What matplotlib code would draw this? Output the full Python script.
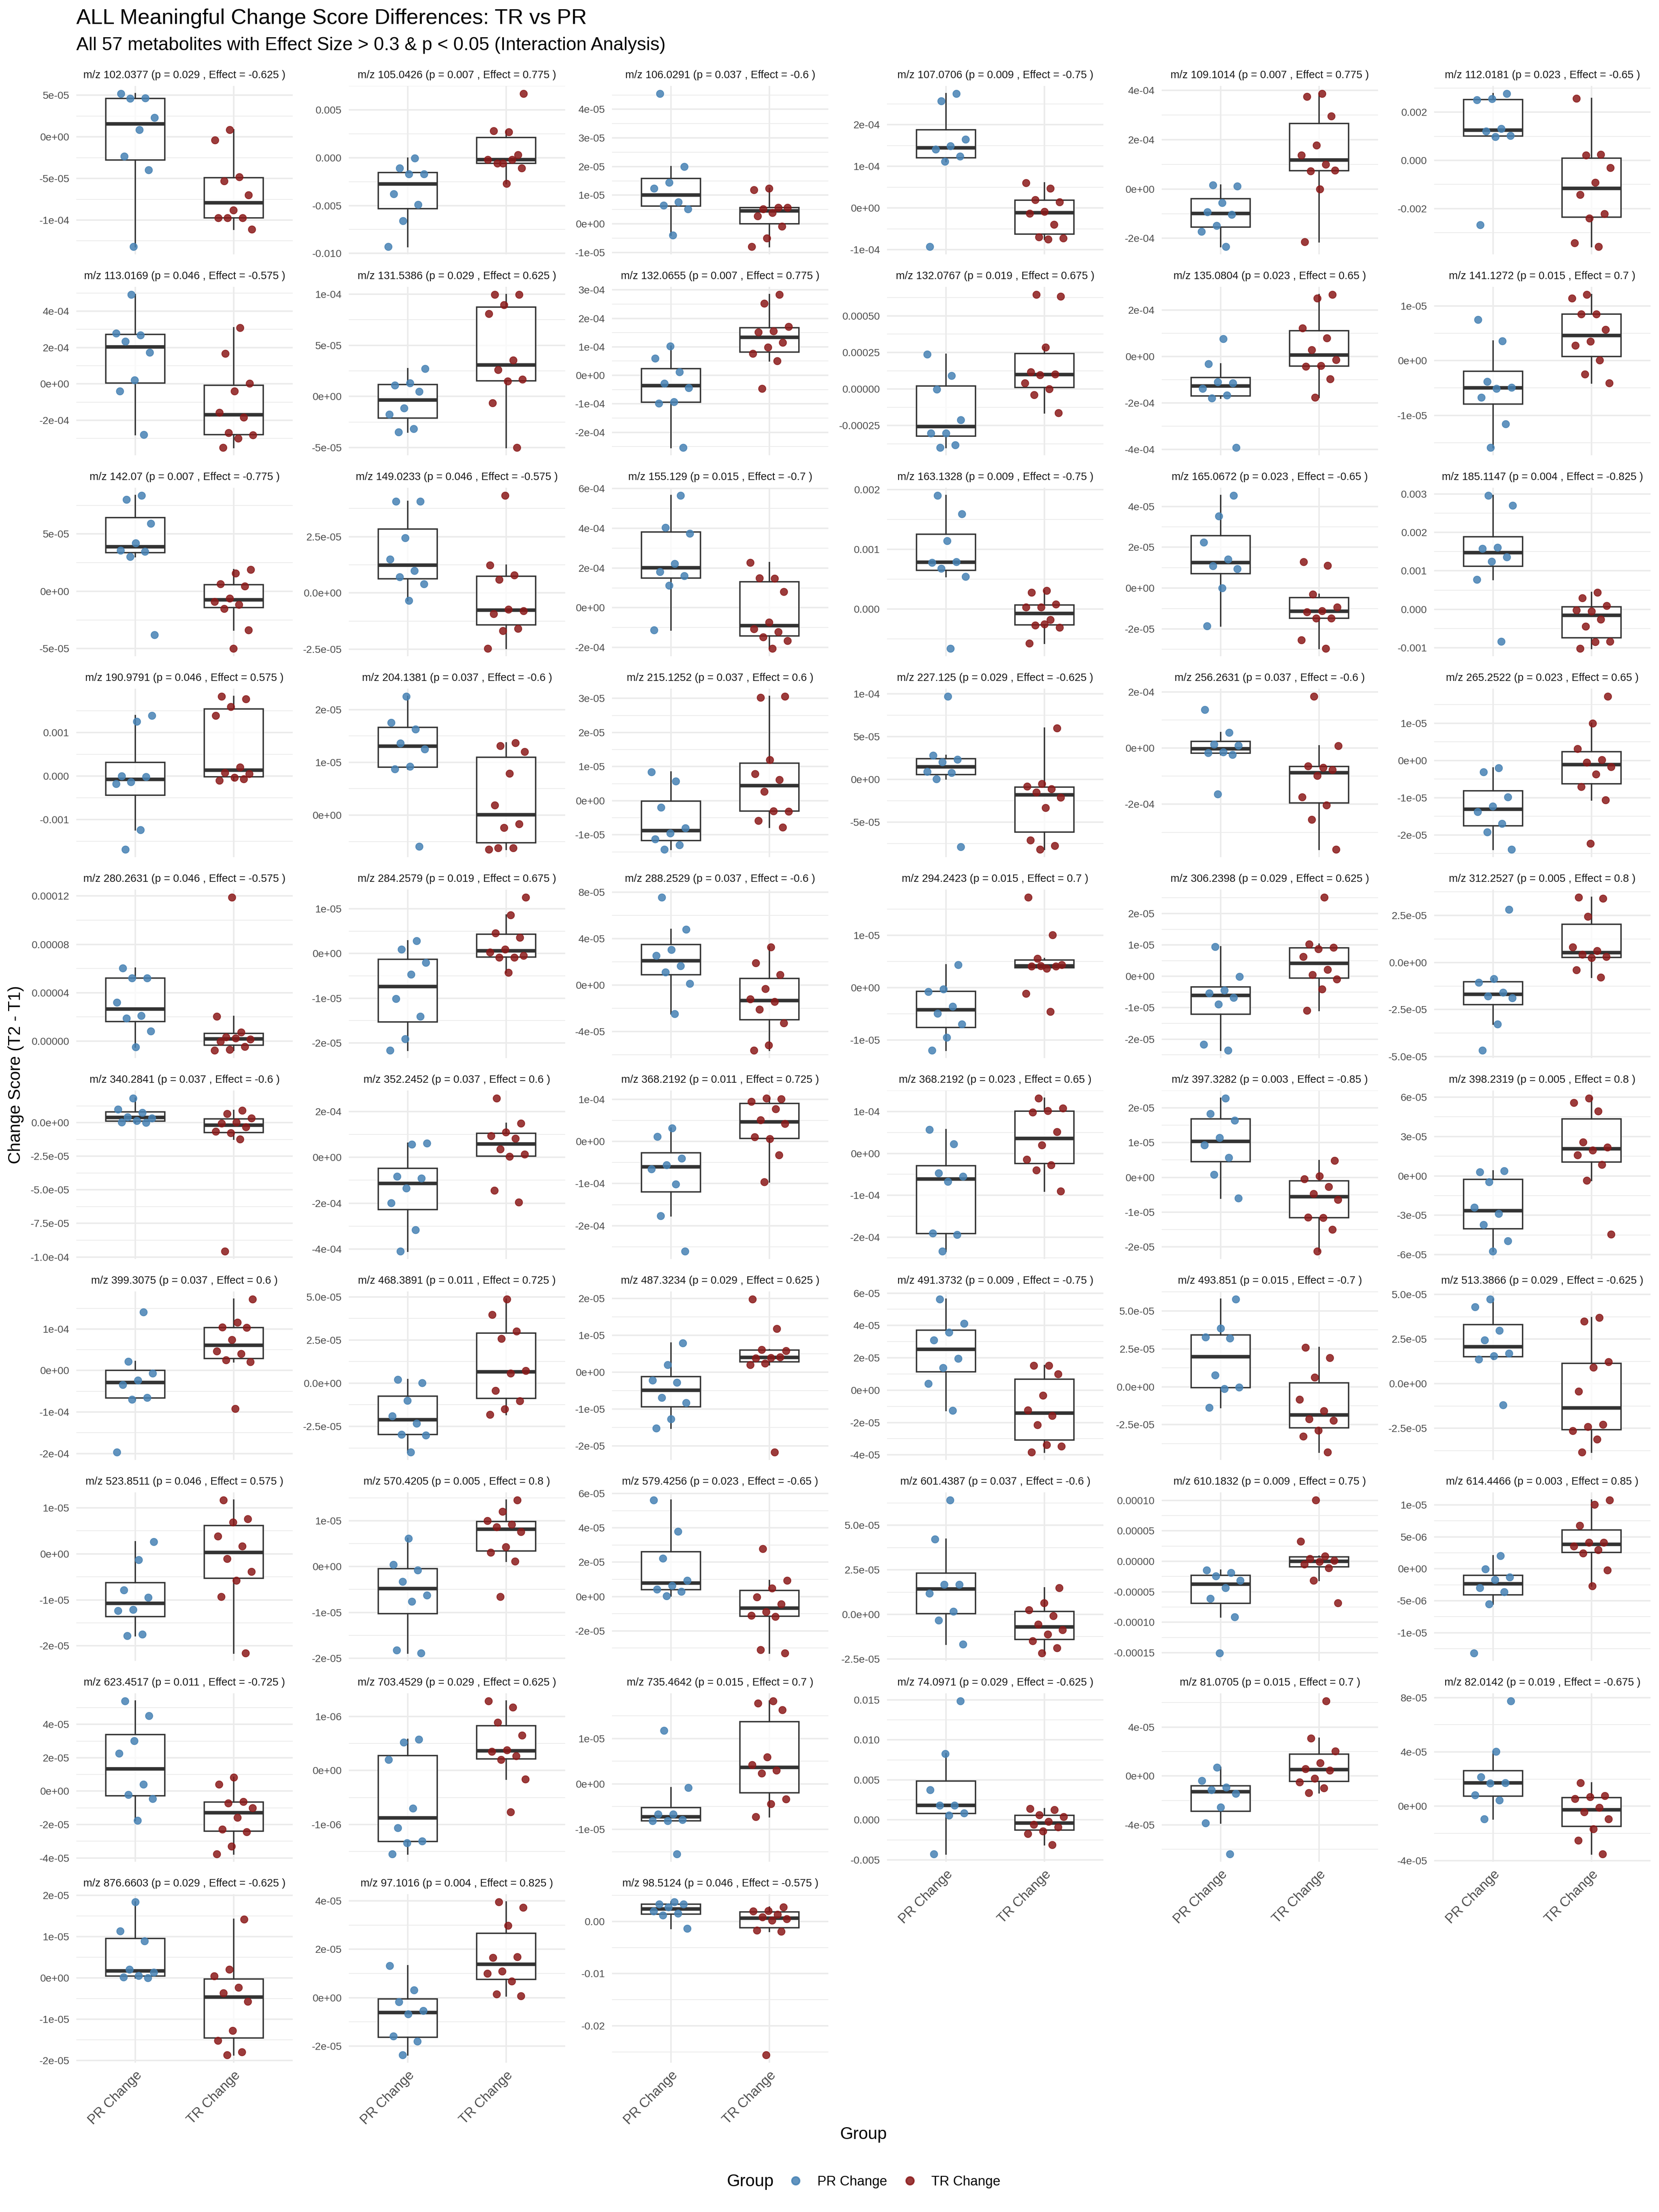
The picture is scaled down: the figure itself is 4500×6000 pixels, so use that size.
import numpy as np
import matplotlib
matplotlib.use("Agg")
import matplotlib.pyplot as plt
from matplotlib.lines import Line2D

plt.rcParams['font.family'] = ['Liberation Sans', 'DejaVu Sans']

# ---------------- data ----------------
GROUPS = ["PR Change", "TR Change"]

MZ = ["102.0377", "105.0426", "106.0291", "107.0706", "109.1014", "112.0181",
      "113.0169", "131.5386", "132.0655", "132.0767", "135.0804", "141.1272",
      "142.07", "149.0233", "155.129", "163.1328", "165.0672", "185.1147",
      "190.9791", "204.1381", "215.1252", "227.125", "256.2631", "265.2522",
      "280.2631", "284.2579", "288.2529", "294.2423", "306.2398", "312.2527",
      "340.2841", "352.2452", "368.2192", "368.2192", "397.3282", "398.2319",
      "399.3075", "468.3891", "487.3234", "491.3732", "493.851", "513.3866",
      "523.8511", "570.4205", "579.4256", "601.4387", "610.1832", "614.4466",
      "623.4517", "703.4529", "735.4642", "74.0971", "81.0705", "82.0142",
      "876.6603", "97.1016", "98.5124"]

P_VALUES = ["0.029", "0.007", "0.037", "0.009", "0.007", "0.023",
            "0.046", "0.029", "0.007", "0.019", "0.023", "0.015",
            "0.007", "0.046", "0.015", "0.009", "0.023", "0.004",
            "0.046", "0.037", "0.037", "0.029", "0.037", "0.023",
            "0.046", "0.019", "0.037", "0.015", "0.029", "0.005",
            "0.037", "0.037", "0.011", "0.023", "0.003", "0.005",
            "0.037", "0.011", "0.029", "0.009", "0.015", "0.029",
            "0.046", "0.005", "0.023", "0.037", "0.009", "0.003",
            "0.011", "0.029", "0.015", "0.029", "0.015", "0.019",
            "0.029", "0.004", "0.046"]

EFFECTS = ["-0.625", "0.775", "-0.6", "-0.75", "0.775", "-0.65",
           "-0.575", "0.625", "0.775", "0.675", "0.65", "0.7",
           "-0.775", "-0.575", "-0.7", "-0.75", "-0.65", "-0.825",
           "0.575", "-0.6", "0.6", "-0.625", "-0.6", "0.65",
           "-0.575", "0.675", "-0.6", "0.7", "0.625", "0.8",
           "-0.6", "0.6", "0.725", "0.65", "-0.85", "0.8",
           "0.6", "0.725", "0.625", "-0.75", "-0.7", "-0.625",
           "0.575", "0.8", "-0.65", "-0.6", "0.75", "0.85",
           "-0.725", "0.625", "0.7", "-0.625", "0.7", "-0.675",
           "-0.625", "0.825", "-0.575"]

PR_CHANGE = [
    [5.2e-5, 4.65e-5, 4.6e-5, 2.3e-5, 0.85e-5, -2.35e-5, -4.0e-5, -13.2e-5],
    [-0.03e-3, -1.1e-3, -1.7e-3, -1.7e-3, -3.8e-3, -4.9e-3, -6.6e-3, -9.3e-3],
    [4.55e-5, 2.0e-5, 1.44e-5, 1.24e-5, 0.76e-5, 0.65e-5, 0.52e-5, -0.4e-5],
    [2.75e-4, 2.57e-4, 1.65e-4, 1.49e-4, 1.41e-4, 1.24e-4, 1.12e-4, -0.93e-4],
    [0.16e-4, 0.12e-4, -0.56e-4, -0.93e-4, -1.04e-4, -1.49e-4, -1.73e-4, -2.34e-4],
    [2.77e-3, 2.56e-3, 2.51e-3, 1.31e-3, 1.21e-3, 1.02e-3, 0.98e-3, -2.68e-3],
    [4.92e-4, 2.79e-4, 2.69e-4, 2.34e-4, 1.72e-4, 0.2e-4, -0.41e-4, -2.8e-4],
    [2.73e-5, 1.31e-5, 1.1e-5, 0.47e-5, -1.13e-5, -1.74e-5, -3.17e-5, -3.49e-5],
    [1.02e-4, 0.6e-4, 0.12e-4, -0.29e-4, -0.44e-4, -0.93e-4, -0.98e-4, -2.54e-4],
    [2.37e-4, 0.92e-4, -0.02e-4, -2.12e-4, -3.02e-4, -3.02e-4, -3.84e-4, -4.02e-4],
    [0.77e-4, -0.31e-4, -1.14e-4, -1.1e-4, -1.38e-4, -1.67e-4, -1.79e-4, -3.92e-4],
    [0.75e-5, 0.36e-5, -0.38e-5, -0.49e-5, -0.51e-5, -0.67e-5, -1.16e-5, -1.59e-5],
    [8.37e-5, 8.0e-5, 5.92e-5, 4.21e-5, 3.57e-5, 3.48e-5, 3.01e-5, -3.8e-5],
    [4.06e-5, 4.06e-5, 2.44e-5, 1.49e-5, 0.99e-5, 0.71e-5, 0.4e-5, -0.34e-5],
    [5.66e-4, 4.03e-4, 3.74e-4, 2.21e-4, 1.81e-4, 1.61e-4, 1.13e-4, -1.13e-4],
    [1.9e-3, 1.59e-3, 1.14e-3, 0.78e-3, 0.79e-3, 0.68e-3, 0.54e-3, -0.66e-3],
    [4.54e-5, 3.53e-5, 2.24e-5, 1.42e-5, 1.08e-5, 0.95e-5, 0.01e-5, -1.85e-5],
    [2.96e-3, 2.7e-3, 1.61e-3, 1.58e-3, 1.36e-3, 1.24e-3, 0.77e-3, -0.84e-3],
    [1.39e-3, 1.25e-3, 0.0, -0.02e-3, -0.14e-3, -0.18e-3, -1.24e-3, -1.69e-3],
    [2.25e-5, 1.75e-5, 1.63e-5, 1.36e-5, 1.25e-5, 0.92e-5, 0.87e-5, -0.59e-5],
    [0.84e-5, 0.57e-5, -0.2e-5, -0.8e-5, -0.95e-5, -1.12e-5, -1.3e-5, -1.43e-5],
    [9.7e-5, 2.79e-5, 2.31e-5, 2.04e-5, 0.9e-5, 0.75e-5, 0.03e-5, -7.9e-5],
    [1.37e-4, 0.55e-4, 0.13e-4, 0.09e-4, -0.15e-4, -0.17e-4, -0.23e-4, -1.64e-4],
    [-0.2e-5, -0.31e-5, -0.98e-5, -1.23e-5, -1.38e-5, -1.7e-5, -1.92e-5, -2.39e-5],
    [6.03e-5, 5.22e-5, 5.22e-5, 3.21e-5, 2.1e-5, 1.9e-5, 0.81e-5, -0.49e-5],
    [0.28e-5, 0.09e-5, -0.2e-5, -0.47e-5, -1.01e-5, -1.41e-5, -1.91e-5, -2.17e-5],
    [7.56e-5, 4.78e-5, 3.04e-5, 2.53e-5, 1.64e-5, 1.11e-5, 0.13e-5, -2.49e-5],
    [0.44e-5, -0.03e-5, -0.08e-5, -0.36e-5, -0.49e-5, -0.7e-5, -0.95e-5, -1.2e-5],
    [0.94e-5, -0.01e-5, -0.44e-5, -0.54e-5, -0.68e-5, -0.89e-5, -2.17e-5, -2.36e-5],
    [2.81e-5, -0.86e-5, -1.07e-5, -1.58e-5, -1.79e-5, -1.88e-5, -3.27e-5, -4.67e-5],
    [1.82e-5, 0.99e-5, 0.75e-5, 0.42e-5, 0.34e-5, 0.15e-5, 0.04e-5, 0.0],
    [0.61e-4, 0.57e-4, -0.83e-4, -0.92e-4, -1.34e-4, -1.99e-4, -3.17e-4, -4.1e-4],
    [0.32e-4, 0.12e-4, -0.4e-4, -0.56e-4, -0.65e-4, -1.01e-4, -1.77e-4, -2.61e-4],
    [0.57e-4, 0.23e-4, -0.47e-4, -0.55e-4, -0.67e-4, -1.91e-4, -1.94e-4, -2.34e-4],
    [2.28e-5, 1.83e-5, 1.64e-5, 1.14e-5, 0.93e-5, 0.57e-5, 0.08e-5, -0.6e-5],
    [0.29e-5, 0.39e-5, -0.45e-5, -2.41e-5, -2.88e-5, -3.73e-5, -4.96e-5, -5.75e-5],
    [1.41e-4, 0.22e-4, -0.07e-4, -0.24e-4, -0.34e-4, -0.65e-4, -0.7e-4, -1.97e-4],
    [0.22e-5, 0.01e-5, -1.01e-5, -1.91e-5, -2.33e-5, -2.97e-5, -3.01e-5, -4.0e-5],
    [0.79e-5, 0.2e-5, -0.22e-5, -0.28e-5, -0.69e-5, -0.83e-5, -1.27e-5, -1.52e-5],
    [5.63e-5, 4.12e-5, 3.57e-5, 3.09e-5, 1.95e-5, 1.39e-5, 0.4e-5, -1.26e-5],
    [5.78e-5, 3.86e-5, 3.28e-5, 3.2e-5, 0.77e-5, -0.03e-5, -0.14e-5, -1.38e-5],
    [4.74e-5, 4.31e-5, 2.98e-5, 2.44e-5, 1.69e-5, 1.56e-5, 1.37e-5, -1.2e-5],
    [0.26e-5, -0.13e-5, -0.79e-5, -0.95e-5, -1.21e-5, -1.24e-5, -1.75e-5, -1.78e-5],
    [0.61e-5, 0.04e-5, -0.08e-5, -0.33e-5, -0.63e-5, -0.76e-5, -1.82e-5, -1.89e-5],
    [5.62e-5, 3.78e-5, 2.23e-5, 0.93e-5, 0.63e-5, 0.42e-5, 0.3e-5, 0.03e-5],
    [6.42e-5, 4.23e-5, 1.68e-5, 1.68e-5, 1.17e-5, 0.16e-5, -0.33e-5, -1.68e-5],
    [-1.48e-5, -1.86e-5, -2.45e-5, -3.17e-5, -4.35e-5, -6.13e-5, -9.12e-5, -15.08e-5],
    [2.06e-6, -0.04e-6, -1.33e-6, -1.73e-6, -2.98e-6, -3.59e-6, -5.52e-6, -13.2e-6],
    [5.4e-5, 4.52e-5, 3.01e-5, 2.25e-5, 0.41e-5, -0.21e-5, -0.45e-5, -1.75e-5],
    [0.58e-6, 0.52e-6, 0.2e-6, -0.7e-6, -1.06e-6, -1.31e-6, -1.34e-6, -1.55e-6],
    [1.18e-5, -0.08e-5, -0.67e-5, -0.67e-5, -0.79e-5, -0.82e-5, -0.82e-5, -1.55e-5],
    [14.86e-3, 8.26e-3, 3.74e-3, 1.81e-3, 1.81e-3, 0.86e-3, 0.56e-3, -4.28e-3],
    [0.7e-5, -0.37e-5, -0.93e-5, -1.15e-5, -1.44e-5, -2.56e-5, -3.86e-5, -6.39e-5],
    [7.75e-5, 4.03e-5, 2.15e-5, 1.72e-5, 1.7e-5, 0.84e-5, 0.46e-5, -0.94e-5],
    [1.84e-5, 1.13e-5, 0.89e-5, 0.2e-5, 0.13e-5, 0.05e-5, 0.02e-5, 0.0],
    [1.32e-5, 0.31e-5, -0.18e-5, -0.54e-5, -0.68e-5, -1.59e-5, -1.8e-5, -2.37e-5],
    [3.75e-3, 3.3e-3, 3.3e-3, 2.76e-3, 1.97e-3, 1.51e-3, 1.18e-3, -1.32e-3],
]

TR_CHANGE = [
    [0.85e-5, -0.4e-5, -4.8e-5, -5.3e-5, -7.0e-5, -8.8e-5, -9.75e-5, -9.75e-5, -9.75e-5, -11.1e-5],
    [6.7e-3, 2.7e-3, 2.8e-3, 0.3e-3, -0.6e-3, -0.2e-3, -0.2e-3, -0.6e-3, -1.1e-3, -2.7e-3],
    [1.24e-5, 1.19e-5, 0.57e-5, 0.52e-5, 0.57e-5, 0.39e-5, 0.27e-5, -0.09e-5, -0.5e-5, -0.8e-5],
    [0.6e-4, 0.47e-4, 0.2e-4, 0.14e-4, -0.09e-4, -0.13e-4, -0.4e-4, -0.7e-4, -0.72e-4, -0.75e-4],
    [3.87e-4, 3.74e-4, 2.95e-4, 1.78e-4, 1.37e-4, 0.99e-4, 0.73e-4, 0.76e-4, -0.01e-4, -2.14e-4],
    [2.57e-3, 0.25e-3, 0.22e-3, -0.3e-3, -0.91e-3, -1.42e-3, -2.22e-3, -2.4e-3, -3.43e-3, -3.58e-3],
    [3.08e-4, 1.67e-4, 0.03e-4, -0.41e-4, -1.57e-4, -1.84e-4, -2.69e-4, -2.82e-4, -3.0e-4, -3.51e-4],
    [9.97e-5, 9.97e-5, 8.95e-5, 8.08e-5, 3.55e-5, 2.62e-5, 1.66e-5, 1.48e-5, -0.64e-5, -5.0e-5],
    [2.84e-4, 2.53e-4, 1.71e-4, 1.56e-4, 1.52e-4, 1.15e-4, 0.98e-4, 0.77e-4, 0.51e-4, -0.46e-4],
    [6.47e-4, 6.33e-4, 2.86e-4, 1.16e-4, 1.02e-4, 0.96e-4, 0.41e-4, 0.0, -0.41e-4, -1.63e-4],
    [2.67e-4, 2.5e-4, 1.22e-4, 0.79e-4, 0.28e-4, -0.14e-4, -0.4e-4, -0.42e-4, -0.96e-4, -1.76e-4],
    [1.21e-5, 1.14e-5, 0.85e-5, 0.85e-5, 0.57e-5, 0.35e-5, 0.28e-5, 0.01e-5, -0.25e-5, -0.41e-5],
    [1.89e-5, 1.57e-5, 0.63e-5, 0.45e-5, -0.61e-5, -0.9e-5, -1.15e-5, -1.51e-5, -3.37e-5, -5.0e-5],
    [4.33e-5, 1.24e-5, 0.79e-5, 0.6e-5, -0.79e-5, -0.73e-5, -0.92e-5, -1.59e-5, -1.68e-5, -2.47e-5],
    [2.27e-4, 1.47e-4, 1.49e-4, 0.81e-4, -0.74e-4, -1.08e-4, -1.22e-4, -1.48e-4, -1.66e-4, -2.06e-4],
    [0.31e-3, 0.28e-3, 0.08e-3, 0.03e-3, 0.03e-3, -0.18e-3, -0.27e-3, -0.31e-3, -0.25e-3, -0.57e-3],
    [1.29e-5, 1.11e-5, -0.3e-5, -0.94e-5, -1.11e-5, -1.16e-5, -1.48e-5, -1.47e-5, -2.54e-5, -2.96e-5],
    [0.44e-3, 0.29e-3, 0.09e-3, -0.05e-3, -0.02e-3, -0.26e-3, -0.44e-3, -0.84e-3, -0.85e-3, -1.02e-3],
    [1.83e-3, 1.77e-3, 1.59e-3, 1.39e-3, 0.2e-3, 0.07e-3, 0.05e-3, -0.04e-3, -0.1e-3, -0.07e-3],
    [1.37e-5, 1.31e-5, 1.2e-5, 0.79e-5, 0.19e-5, -0.17e-5, -0.24e-5, -0.65e-5, -0.62e-5, -0.62e-5],
    [3.02e-5, 3.06e-5, 1.2e-5, 0.79e-5, 0.62e-5, 0.27e-5, -0.31e-5, -0.3e-5, -0.58e-5, -0.78e-5],
    [5.98e-5, -0.51e-5, -0.81e-5, -1.14e-5, -1.53e-5, -2.13e-5, -3.33e-5, -7.12e-5, -7.78e-5, -8.2e-5],
    [1.84e-4, 0.08e-4, -0.69e-4, -0.64e-4, -0.78e-4, -0.98e-4, -1.74e-4, -2.03e-4, -2.55e-4, -3.61e-4],
    [1.72e-5, 1.0e-5, 0.31e-5, 0.02e-5, -0.05e-5, -0.17e-5, -0.37e-5, -0.71e-5, -1.06e-5, -2.23e-5],
    [11.9e-5, 2.03e-5, 0.73e-5, 0.32e-5, 0.15e-5, 0.24e-5, -0.04e-5, -0.45e-5, -0.7e-5, -0.77e-5],
    [1.26e-5, 0.86e-5, 0.46e-5, 0.36e-5, 0.09e-5, 0.03e-5, -0.09e-5, -0.09e-5, -0.05e-5, -0.43e-5],
    [3.27e-5, 1.89e-5, 0.87e-5, -0.33e-5, -1.22e-5, -1.44e-5, -2.11e-5, -3.27e-5, -5.2e-5, -5.64e-5],
    [1.73e-5, 1.01e-5, 0.56e-5, 0.44e-5, 0.37e-5, 0.41e-5, 0.41e-5, 0.42e-5, -0.11e-5, -0.46e-5],
    [2.52e-5, 1.03e-5, 0.92e-5, 0.87e-5, 0.63e-5, 0.21e-5, 0.05e-5, -0.09e-5, -0.41e-5, -1.09e-5],
    [3.47e-5, 3.41e-5, 2.44e-5, 0.82e-5, 0.62e-5, 0.42e-5, 0.32e-5, 0.26e-5, -0.4e-5, -0.79e-5],
    [0.9e-5, 0.67e-5, 0.34e-5, 0.04e-5, -0.04e-5, -0.34e-5, -0.76e-5, -0.65e-5, -1.24e-5, -9.58e-5],
    [2.58e-4, 1.48e-4, 1.09e-4, 0.94e-4, 0.82e-4, 0.36e-4, 0.13e-4, 0.03e-4, -1.45e-4, -1.96e-4],
    [1.01e-4, 1.03e-4, 0.95e-4, 0.77e-4, 0.51e-4, 0.42e-4, 0.06e-4, 0.11e-4, -0.32e-4, -0.96e-4],
    [1.32e-4, 1.08e-4, 1.02e-4, 0.98e-4, 0.52e-4, 0.2e-4, -0.14e-4, -0.28e-4, -0.4e-4, -0.9e-4],
    [0.48e-5, 0.04e-5, -0.05e-5, -0.27e-5, -0.47e-5, -0.64e-5, -1.16e-5, -1.15e-5, -1.5e-5, -2.13e-5],
    [5.92e-5, 5.57e-5, 4.92e-5, 2.57e-5, 2.18e-5, 1.94e-5, 1.59e-5, 0.86e-5, -0.35e-5, -4.45e-5],
    [1.72e-4, 1.16e-4, 1.04e-4, 1.03e-4, 0.74e-4, 0.47e-4, 0.4e-4, 0.25e-4, 0.21e-4, -0.92e-4],
    [4.87e-5, 3.96e-5, 3.0e-5, 2.58e-5, 0.73e-5, 0.58e-5, -0.43e-5, -1.03e-5, -1.49e-5, -1.81e-5],
    [1.98e-5, 1.18e-5, 0.61e-5, 0.58e-5, 0.39e-5, 0.38e-5, 0.41e-5, 0.24e-5, 0.2e-5, -2.17e-5],
    [1.52e-5, 1.52e-5, 1.0e-5, -0.33e-5, -1.24e-5, -1.58e-5, -2.15e-5, -3.46e-5, -3.38e-5, -3.84e-5],
    [2.59e-5, 1.92e-5, 0.63e-5, -0.85e-5, -1.6e-5, -2.13e-5, -2.23e-5, -2.87e-5, -3.27e-5, -4.32e-5],
    [3.71e-5, 3.5e-5, 1.23e-5, 0.91e-5, -0.42e-5, -2.28e-5, -2.4e-5, -2.63e-5, -3.12e-5, -3.84e-5],
    [1.17e-5, 0.76e-5, 0.69e-5, 0.38e-5, 0.17e-5, -0.11e-5, -0.39e-5, -0.58e-5, -0.93e-5, -2.16e-5],
    [1.45e-5, 1.2e-5, 1.0e-5, 0.92e-5, 0.86e-5, 0.76e-5, 0.43e-5, 0.31e-5, 0.11e-5, -0.66e-5],
    [2.79e-5, 0.94e-5, 0.48e-5, -0.03e-5, -0.45e-5, -0.9e-5, -1.11e-5, -1.17e-5, -3.1e-5, -3.3e-5],
    [1.49e-5, 0.65e-5, 0.25e-5, -0.09e-5, -0.56e-5, -0.87e-5, -1.11e-5, -1.5e-5, -1.88e-5, -2.18e-5],
    [10.05e-5, 3.29e-5, 0.84e-5, 0.42e-5, 0.13e-5, -0.08e-5, -0.46e-5, -1.1e-5, -3.17e-5, -6.84e-5],
    [10.77e-6, 10.08e-6, 6.77e-6, 4.11e-6, 4.11e-6, 3.55e-6, 2.98e-6, 2.42e-6, -0.2e-6, -2.7e-6],
    [0.82e-5, 0.41e-5, -0.62e-5, -0.72e-5, -1.01e-5, -1.57e-5, -2.29e-5, -2.43e-5, -3.3e-5, -3.77e-5],
    [1.29e-6, 1.17e-6, 0.89e-6, 0.65e-6, 0.38e-6, 0.35e-6, 0.27e-6, 0.2e-6, -0.16e-6, -0.77e-6],
    [1.83e-5, 1.78e-5, 1.63e-5, 0.59e-5, 0.42e-5, 0.3e-5, 0.23e-5, -0.34e-5, -0.44e-5, -0.73e-5],
    [1.42e-3, 1.25e-3, 0.6e-3, 0.39e-3, -0.22e-3, -0.6e-3, -0.9e-3, -1.42e-3, -1.72e-3, -3.14e-3],
    [6.14e-5, 3.1e-5, 2.03e-5, 1.07e-5, 0.59e-5, 0.45e-5, -0.2e-5, -0.51e-5, -0.99e-5, -1.38e-5],
    [1.72e-5, 0.78e-5, 0.68e-5, 0.56e-5, -0.1e-5, -0.43e-5, -0.94e-5, -1.67e-5, -2.51e-5, -3.52e-5],
    [1.42e-5, 0.2e-5, 0.04e-5, -0.23e-5, -0.37e-5, -0.57e-5, -1.28e-5, -1.52e-5, -1.8e-5, -1.87e-5],
    [3.96e-5, 3.73e-5, 2.98e-5, 1.66e-5, 1.69e-5, 1.09e-5, 1.0e-5, 0.68e-5, 0.14e-5, 0.07e-5],
    [2.76e-3, 2.04e-3, 1.97e-3, 1.32e-3, 0.86e-3, 0.46e-3, 0.2e-3, -1.71e-3, -1.9e-3, -25.6e-3],
]

Y_TICK_LABELS = [
    ["5e-05", "0e+00", "-5e-05", "-1e-04"],
    ["0.005", "0.000", "-0.005", "-0.010"],
    ["4e-05", "3e-05", "2e-05", "1e-05", "0e+00", "-1e-05"],
    ["2e-04", "1e-04", "0e+00", "-1e-04"],
    ["4e-04", "2e-04", "0e+00", "-2e-04"],
    ["0.002", "0.000", "-0.002"],
    ["4e-04", "2e-04", "0e+00", "-2e-04"],
    ["1e-04", "5e-05", "0e+00", "-5e-05"],
    ["3e-04", "2e-04", "1e-04", "0e+00", "-1e-04", "-2e-04"],
    ["0.00050", "0.00025", "0.00000", "-0.00025"],
    ["2e-04", "0e+00", "-2e-04", "-4e-04"],
    ["1e-05", "0e+00", "-1e-05"],
    ["5e-05", "0e+00", "-5e-05"],
    ["2.5e-05", "0.0e+00", "-2.5e-05"],
    ["6e-04", "4e-04", "2e-04", "0e+00", "-2e-04"],
    ["0.002", "0.001", "0.000"],
    ["4e-05", "2e-05", "0e+00", "-2e-05"],
    ["0.003", "0.002", "0.001", "0.000", "-0.001"],
    ["0.001", "0.000", "-0.001"],
    ["2e-05", "1e-05", "0e+00"],
    ["3e-05", "2e-05", "1e-05", "0e+00", "-1e-05"],
    ["1e-04", "5e-05", "0e+00", "-5e-05"],
    ["2e-04", "0e+00", "-2e-04"],
    ["1e-05", "0e+00", "-1e-05", "-2e-05"],
    ["0.00012", "0.00008", "0.00004", "0.00000"],
    ["1e-05", "0e+00", "-1e-05", "-2e-05"],
    ["8e-05", "4e-05", "0e+00", "-4e-05"],
    ["1e-05", "0e+00", "-1e-05"],
    ["2e-05", "1e-05", "0e+00", "-1e-05", "-2e-05"],
    ["2.5e-05", "0.0e+00", "-2.5e-05", "-5.0e-05"],
    ["0.0e+00", "-2.5e-05", "-5.0e-05", "-7.5e-05", "-1.0e-04"],
    ["2e-04", "0e+00", "-2e-04", "-4e-04"],
    ["1e-04", "0e+00", "-1e-04", "-2e-04"],
    ["1e-04", "0e+00", "-1e-04", "-2e-04"],
    ["2e-05", "1e-05", "0e+00", "-1e-05", "-2e-05"],
    ["6e-05", "3e-05", "0e+00", "-3e-05", "-6e-05"],
    ["1e-04", "0e+00", "-1e-04", "-2e-04"],
    ["5.0e-05", "2.5e-05", "0.0e+00", "-2.5e-05"],
    ["2e-05", "1e-05", "0e+00", "-1e-05", "-2e-05"],
    ["6e-05", "4e-05", "2e-05", "0e+00", "-2e-05", "-4e-05"],
    ["5.0e-05", "2.5e-05", "0.0e+00", "-2.5e-05"],
    ["5.0e-05", "2.5e-05", "0.0e+00", "-2.5e-05"],
    ["1e-05", "0e+00", "-1e-05", "-2e-05"],
    ["1e-05", "0e+00", "-1e-05", "-2e-05"],
    ["6e-05", "4e-05", "2e-05", "0e+00", "-2e-05"],
    ["5.0e-05", "2.5e-05", "0.0e+00", "-2.5e-05"],
    ["0.00010", "0.00005", "0.00000", "-0.00005", "-0.00010", "-0.00015"],
    ["1e-05", "5e-06", "0e+00", "-5e-06", "-1e-05"],
    ["4e-05", "2e-05", "0e+00", "-2e-05", "-4e-05"],
    ["1e-06", "0e+00", "-1e-06"],
    ["1e-05", "0e+00", "-1e-05"],
    ["0.015", "0.010", "0.005", "0.000", "-0.005"],
    ["4e-05", "0e+00", "-4e-05"],
    ["8e-05", "4e-05", "0e+00", "-4e-05"],
    ["2e-05", "1e-05", "0e+00", "-1e-05", "-2e-05"],
    ["4e-05", "2e-05", "0e+00", "-2e-05"],
    ["0.00", "-0.01", "-0.02"],
]

TITLE = "ALL Meaningful Change Score Differences: TR vs PR"
SUBTITLE = "All 57 metabolites with Effect Size > 0.3 & p < 0.05 (Interaction Analysis)"
Y_LABEL = "Change Score (T2 - T1)"
X_LABEL = "Group"

# ---------------- style / layout ----------------
COLORS = ["#4682B4", "#8B1A1A"]
BOX_EDGE = "#333333"
GRID = "#EBEBEB"
TEXT_GREY = "#4D4D4D"

W, H = 4500, 6000
NCOL = 6
COL_X = [207, 946, 1660, 2406, 3151, 3890]
PANEL_W, PANEL_H = 587, 457
ROW0, ROW_STEP = 233, 545

fig = plt.figure(figsize=(15, 20), dpi=300)
fig.patch.set_facecolor("white")

n_panels = len(MZ)
last_in_col = {}
for i in range(n_panels):
    last_in_col[i % NCOL] = i


def jitter(n, k):
    # deterministic spread of points within +/-0.2 of the category centre
    return ((np.arange(n) * 0.618034 + k * 0.2719 + 0.13) % 1.0 - 0.5) * 0.4


for i in range(n_panels):
    r, c = divmod(i, NCOL)
    top = ROW0 + r * ROW_STEP
    ax = fig.add_axes([COL_X[c] / W, 1 - (top + PANEL_H) / H, PANEL_W / W, PANEL_H / H])
    groups = [np.array(PR_CHANGE[i]), np.array(TR_CHANGE[i])]

    ax.boxplot(groups, positions=[1, 2], widths=0.6, whis=1.5, showfliers=False,
               showcaps=False, patch_artist=True, manage_ticks=False,
               boxprops=dict(facecolor=(1, 1, 1, 0.7), edgecolor=BOX_EDGE, linewidth=0.9),
               medianprops=dict(color=BOX_EDGE, linewidth=2.3, solid_capstyle="butt"),
               whiskerprops=dict(color=BOX_EDGE, linewidth=0.9), zorder=2)

    for g, vals in enumerate(groups):
        xs = (g + 1) + jitter(len(vals), i * 2 + g)
        ax.scatter(xs, vals, s=22, color=COLORS[g], alpha=0.85,
                   edgecolors=COLORS[g], linewidths=0.5, zorder=3)

    allv = np.concatenate(groups)
    lo, hi = allv.min(), allv.max()
    pad = 0.05 * (hi - lo)
    ax.set_ylim(lo - pad, hi + pad)
    ax.set_xlim(0.4, 2.6)

    labels = Y_TICK_LABELS[i]
    ticks = [float(s) for s in labels]
    ax.set_yticks(ticks)
    ax.set_yticklabels(labels)
    step = abs(ticks[0] - ticks[1])
    tmax, tmin = max(ticks), min(ticks)
    minors = [t + step / 2 for t in ticks] + [tmin - step / 2]
    minors = [m for m in minors if lo - pad <= m <= hi + pad]
    ax.set_yticks(minors, minor=True)
    ax.set_xticks([1, 2])

    ax.grid(which="major", color=GRID, linewidth=1.0)
    ax.grid(which="minor", axis="y", color=GRID, linewidth=0.5)
    ax.set_axisbelow(True)
    for s in ax.spines.values():
        s.set_visible(False)
    ax.tick_params(which="both", length=0)
    ax.tick_params(axis="y", labelsize=6.8, labelcolor=TEXT_GREY, pad=4.5)

    if last_in_col[c] == i:
        ax.set_xticklabels(GROUPS, rotation=45, ha="right", va="top",
                           rotation_mode="anchor", fontsize=8.8, color=TEXT_GREY)
        ax.tick_params(axis="x", pad=4)
    else:
        ax.set_xticklabels([])

    ax.set_title(f"m/z {MZ[i]} (p = {P_VALUES[i]} , Effect = {EFFECTS[i]} )",
                 fontsize=7, color="#1A1A1A", pad=5)

# titles and axis labels
fig.text(207 / W, 1 - 65 / H, TITLE, fontsize=14, ha="left", va="baseline")
fig.text(207 / W, 1 - 136 / H, SUBTITLE, fontsize=12, ha="left", va="baseline")
fig.text(43 / W, 1 - 2915 / H, Y_LABEL, fontsize=11, rotation=90, ha="center", va="center")
fig.text(2342 / W, 1 - 5790 / H, X_LABEL, fontsize=11, ha="center", va="center")

# legend
fig.text(1972 / W, 1 - 5918 / H, "Group", fontsize=11, ha="left", va="center")
handles = [Line2D([], [], marker="o", linestyle="", markersize=5, color=COLORS[g],
                  markeredgecolor=COLORS[g], alpha=0.85) for g in range(2)]
fig.legend(handles, GROUPS, ncol=2, loc="center left",
           bbox_to_anchor=(2140 / W, 1 - 5918 / H), frameon=False, fontsize=8.8,
           handlelength=1.0, handletextpad=1.1, columnspacing=1.17, borderpad=0,
           borderaxespad=0)

fig.savefig("out.png", dpi=300, facecolor="white")
